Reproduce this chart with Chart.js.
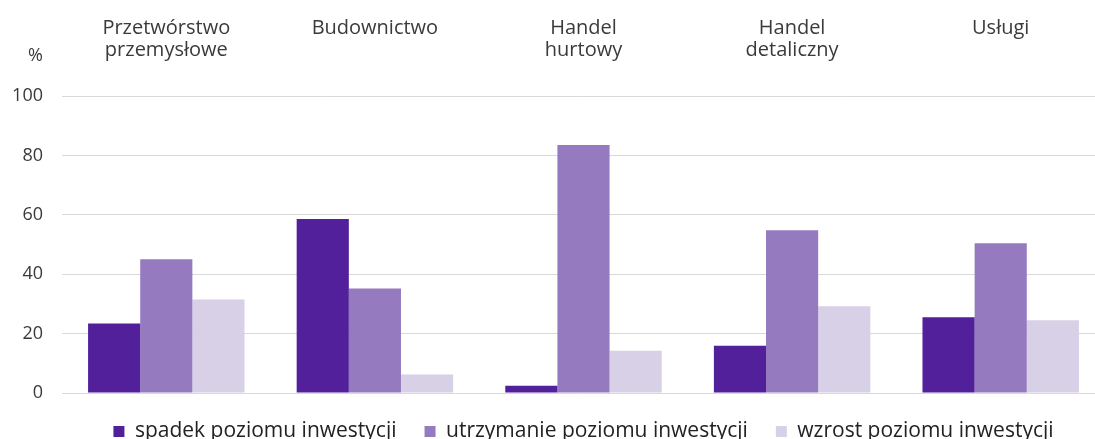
<!DOCTYPE html>
<html>
<head>
<meta charset="utf-8">
<script src="https://cdn.jsdelivr.net/npm/chart.js@4"></script>
<style>
  html, body { margin: 0; padding: 0; background: #fff; overflow: hidden; }
  #wrap { width: 1106px; height: 439px; }
</style>
</head>
<body>
<div id="wrap"><canvas id="myChart"></canvas></div>
<script>
// categories (second empty line keeps one-line labels top aligned)
const categories = [['Przetwórstwo', 'przemysłowe'], ['Budownictwo', ''], ['Handel', 'hurtowy'], ['Handel', 'detaliczny'], ['Usługi', '']];
const spadek = [23.4, 58.6, 2.4, 15.9, 25.5];
const utrzymanie = [45.0, 35.2, 83.5, 54.8, 50.4];
const wzrost = [31.5, 6.2, 14.2, 29.2, 24.5];
const yTicks = [0, 20, 40, 60, 80, 100];

const textColor = '#3a3a3a';
const fontFamily = '"Open Sans", sans-serif';

// "%" above the y axis labels
const percentLabel = {
  id: 'percentLabel',
  afterDraw(chart) {
    const c = chart.ctx;
    c.save();
    c.font = '18px ' + fontFamily;
    c.fillStyle = textColor;
    c.textAlign = 'right';
    c.textBaseline = 'middle';
    c.fillText('%', 43, chart.chartArea.top - 40);
    c.restore();
  }
};

// keep the legend short so the plot reaches down to the legend line
const legendHeight = {
  id: 'legendHeight',
  beforeInit(chart) {
    const fitLegend = chart.legend.fit;
    chart.legend.fit = function fit() {
      fitLegend.call(this);
      this.height = 46;
    };
  }
};

const ctx = document.getElementById('myChart');

new Chart(ctx, {
  type: 'bar',
  data: {
    labels: categories,
    datasets: [
      { label: 'spadek poziomu inwestycji', data: spadek, backgroundColor: '#51209a' },
      { label: 'utrzymanie poziomu inwestycji', data: utrzymanie, backgroundColor: '#957abf' },
      { label: 'wzrost poziomu inwestycji', data: wzrost, backgroundColor: '#d8d0e6' }
    ]
  },
  options: {
    responsive: true,
    maintainAspectRatio: false,
    animation: false,
    categoryPercentage: 0.75,
    barPercentage: 1,
    layout: {
      padding: { top: 16, left: 0, right: 1, bottom: 0 }
    },
    plugins: {
      tooltip: { enabled: false },
      legend: {
        position: 'bottom',
        fullSize: false,
        labels: {
          boxWidth: 11,
          boxHeight: 11,
          padding: 28,
          color: '#222',
          font: { family: fontFamily, size: 21, lineHeight: 1 }
        }
      }
    },
    scales: {
      x: {
        position: 'top',
        afterFit(scale) { scale.height = 80; },
        grid: { display: false, drawTicks: false },
        border: { display: false },
        ticks: {
          color: textColor,
          padding: 35,
          maxRotation: 0,
          font: { family: fontFamily, size: 20, lineHeight: 1.1 }
        }
      },
      y: {
        min: 0,
        max: 100,
        afterFit(scale) { scale.width = 62; },
        afterBuildTicks(scale) { scale.ticks = yTicks.map(v => ({ value: v })); },
        grid: { color: '#d9d9d9', lineWidth: 1, drawTicks: false },
        border: { display: false },
        ticks: {
          color: textColor,
          padding: 19,
          font: { family: fontFamily, size: 18 }
        }
      }
    }
  },
  plugins: [percentLabel, legendHeight]
});
</script>
</body>
</html>
